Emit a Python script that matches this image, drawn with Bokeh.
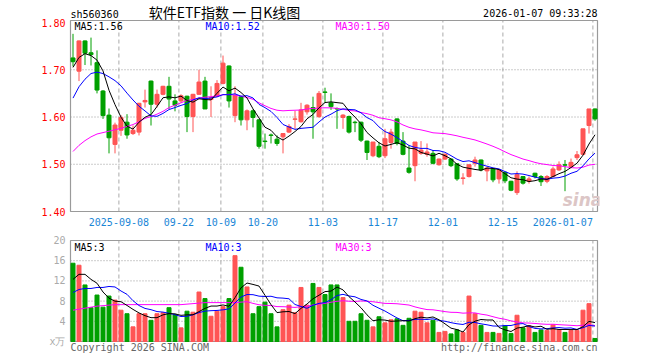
from bokeh.plotting import figure
from bokeh.layouts import column
from bokeh.models import Range1d, FixedTicker, Label, NumeralTickFormatter
from bokeh.embed import file_html
from bokeh.resources import INLINE

# ---------------- data ----------------
opens = [1.725, 1.697, 1.761, 1.736, 1.715, 1.655, 1.604, 1.542, 1.572, 1.589,
         1.565, 1.568, 1.632, 1.676, 1.627, 1.648, 1.665, 1.634, 1.634, 1.644,
         1.601, 1.648, 1.676, 1.637, 1.644, 1.671, 1.708, 1.603, 1.643, 1.594,
         1.613, 1.594, 1.549, 1.562, 1.553, 1.558, 1.568, 1.595, 1.590, 1.611,
         1.620, 1.601, 1.653, 1.630, 1.618, 1.599, 1.601, 1.589, 1.589, 1.549,
         1.518, 1.538, 1.518, 1.546, 1.596, 1.549, 1.492, 1.497, 1.523, 1.521,
         1.523, 1.499, 1.511, 1.511, 1.501, 1.470, 1.474, 1.502, 1.509, 1.486,
         1.490, 1.469, 1.483, 1.464, 1.440, 1.474, 1.464, 1.481, 1.474, 1.464,
         1.474, 1.488, 1.499, 1.495, 1.514, 1.521, 1.582, 1.617]
highs = [1.776, 1.762, 1.762, 1.768, 1.741, 1.657, 1.618, 1.588, 1.604, 1.606,
         1.582, 1.630, 1.658, 1.677, 1.658, 1.666, 1.685, 1.648, 1.648, 1.645,
         1.649, 1.700, 1.685, 1.665, 1.678, 1.730, 1.709, 1.665, 1.645, 1.616,
         1.616, 1.595, 1.565, 1.565, 1.561, 1.566, 1.585, 1.613, 1.630, 1.627,
         1.643, 1.655, 1.662, 1.650, 1.620, 1.606, 1.603, 1.592, 1.590, 1.550,
         1.547, 1.547, 1.575, 1.575, 1.597, 1.568, 1.540, 1.547, 1.549, 1.544,
         1.530, 1.512, 1.523, 1.512, 1.502, 1.481, 1.499, 1.516, 1.510, 1.495,
         1.491, 1.489, 1.484, 1.465, 1.485, 1.475, 1.474, 1.482, 1.477, 1.477,
         1.495, 1.506, 1.509, 1.512, 1.528, 1.575, 1.617, 1.618]
lows = [1.707, 1.676, 1.710, 1.709, 1.650, 1.596, 1.523, 1.523, 1.560, 1.554,
        1.562, 1.561, 1.620, 1.582, 1.620, 1.646, 1.617, 1.612, 1.630, 1.568,
        1.568, 1.647, 1.617, 1.600, 1.642, 1.669, 1.620, 1.589, 1.582, 1.572,
        1.578, 1.533, 1.533, 1.544, 1.539, 1.523, 1.566, 1.575, 1.588, 1.605,
        1.554, 1.598, 1.630, 1.615, 1.575, 1.575, 1.565, 1.568, 1.547, 1.509,
        1.515, 1.513, 1.513, 1.533, 1.540, 1.519, 1.480, 1.464, 1.520, 1.516,
        1.500, 1.497, 1.509, 1.494, 1.465, 1.457, 1.472, 1.495, 1.485, 1.464,
        1.462, 1.459, 1.460, 1.443, 1.435, 1.457, 1.459, 1.470, 1.454, 1.460,
        1.472, 1.486, 1.443, 1.493, 1.509, 1.519, 1.565, 1.592]
closes = [1.717, 1.761, 1.735, 1.732, 1.657, 1.603, 1.556, 1.583, 1.599, 1.562,
          1.572, 1.629, 1.635, 1.627, 1.648, 1.665, 1.638, 1.625, 1.645, 1.601,
          1.648, 1.674, 1.617, 1.641, 1.671, 1.714, 1.634, 1.646, 1.594, 1.613,
          1.599, 1.538, 1.548, 1.561, 1.544, 1.565, 1.580, 1.596, 1.615, 1.625,
          1.611, 1.650, 1.652, 1.622, 1.617, 1.604, 1.568, 1.588, 1.551, 1.525,
          1.547, 1.516, 1.554, 1.568, 1.544, 1.521, 1.483, 1.547, 1.530, 1.526,
          1.502, 1.511, 1.521, 1.497, 1.469, 1.471, 1.499, 1.509, 1.488, 1.492,
          1.467, 1.488, 1.465, 1.445, 1.478, 1.460, 1.469, 1.474, 1.463, 1.474,
          1.490, 1.499, 1.498, 1.504, 1.520, 1.575, 1.617, 1.596]
volumes = [15.5, 15.1, 11.2, 6.7, 9.2, 6.8, 9.0, 8.2, 6.2, 5.5,
           2.9, 5.5, 5.5, 4.2, 5.5, 5.7, 6.7, 5.3, 2.7, 6.0,
           5.8, 9.8, 8.5, 5.0, 6.0, 6.9, 8.5, 17.0, 14.7, 10.8,
           5.5, 6.9, 7.8, 5.5, 2.9, 6.3, 7.2, 5.7, 10.7, 7.2,
           11.5, 10.7, 9.3, 11.2, 11.2, 8.7, 4.0, 4.0, 5.5, 4.2,
           2.9, 4.9, 3.7, 4.3, 4.5, 3.2, 4.6, 6.0, 5.8, 3.7,
           4.2, 1.8, 2.0, 1.5, 2.3, 1.8, 9.0, 5.5, 3.2, 1.8,
           1.8, 1.6, 3.1, 1.6, 5.2, 2.7, 3.1, 1.8, 2.3, 2.2,
           3.3, 2.3, 1.8, 2.2, 2.2, 6.2, 7.5, 0.6]

# moving-average values before enough candles exist
ma5_head = [1.705, 1.726, 1.734, 1.730]
ma10_head = [1.640, 1.664, 1.680, 1.692, 1.695, 1.692, 1.685, 1.677, 1.666]
ma30_head = [1.527, 1.540, 1.550, 1.558, 1.564, 1.567, 1.570, 1.573, 1.576, 1.580,
             1.584, 1.590, 1.597, 1.601, 1.606, 1.612, 1.620, 1.625, 1.630, 1.635,
             1.637, 1.640, 1.642, 1.643, 1.645, 1.647, 1.648, 1.646, 1.644]
vol_ma5_head = [12.3, 13.3, 13.3, 12.3]
vol_ma10_head = [9.7, 10.3, 10.5, 10.5, 10.7, 10.7, 10.9, 10.8, 10.0]
vol_ma30_head = [6.2, 6.4, 6.6, 6.8, 7.0, 7.1, 7.2, 7.3, 7.3, 7.3,
                 7.3, 7.3, 7.3, 7.3, 7.3, 7.3, 7.3, 7.3, 7.3, 7.4,
                 7.5, 7.6, 7.7, 7.7, 7.7, 7.7, 7.7, 7.7, 7.8]

tick_idx = [8, 18, 25, 32, 42, 52, 62, 72, 87]
tick_labels = ["2025-09-08", "09-22", "10-09", "10-20", "11-03",
               "11-17", "12-01", "12-15", "2026-01-07"]
price_ticks = [1.40, 1.50, 1.60, 1.70, 1.80]
price_grid = [1.50, 1.60, 1.70]
vol_ticks = [0, 4, 8, 12, 16, 20]
vol_grid = [4, 8, 12, 16]
vol_unit = "x万"

code_text = "sh560360"
title_text = "软件ETF指数 一 日K线图"
time_text = "2026-01-07 09:33:28"
ma_price_texts = ["MA5:1.56", "MA10:1.52", "MA30:1.50"]
ma_vol_texts = ["MA5:3", "MA10:3", "MA30:3"]
copyright_text = "Copyright 2026 SINA.COM"
url_text = "http://finance.sina.com.cn"

# ---------------- helpers ----------------
def moving_avg(vals, n, head):
    out = list(head)
    for i in range(len(head), len(vals)):
        out.append(sum(vals[i - n + 1:i + 1]) / n)
    return out

RED = "#ff5555"
GREEN = "#00a000"
MONO = "DejaVu Sans Mono"
CJK = "Noto Sans CJK SC"
BOX = "#9a9a9a"

idx = list(range(len(closes)))
colors = [RED if c >= o else GREEN for o, c in zip(opens, closes)]
body_top = [max(o, c) for o, c in zip(opens, closes)]
body_bot = [min(o, c) for o, c in zip(opens, closes)]
ma5 = moving_avg(closes, 5, ma5_head)
ma10 = moving_avg(closes, 10, ma10_head)
ma30 = moving_avg(closes, 30, ma30_head)
vma5 = moving_avg(volumes, 5, vol_ma5_head)
vma10 = moving_avg(volumes, 10, vol_ma10_head)
vma30 = moving_avg(volumes, 30, vol_ma30_head)
grid_x = [t - 0.35 for t in tick_idx]

# page-pixel layout; box x 70..597, frame a bit wider so box lines are not clipped
W = 660
STEP = 6.0
X0 = 72.5
FL, FR = 68, 599

def xd(px):
    return (px - X0) / STEP

PPU = 472.5           # price panel: 1.40 at page y 211, box 20..211
def ym(py):
    return 1.40 + (211 - py) / PPU

VPU = 101 / 20.0      # volume panel: 0 at page y 341, box 240..341
def yv(py):
    return (341 - py) / VPU

MAIN_H = 232
VOL_H = 128

def base(height, yr):
    f = figure(width=W, height=height, output_backend="svg", toolbar_location=None,
               x_range=Range1d(xd(FL), xd(FR)), y_range=yr,
               min_border_left=FL, min_border_right=W - FR,
               min_border_top=0, min_border_bottom=0, x_axis_location=None)
    f.outline_line_color = None
    f.background_fill_color = "white"
    f.border_fill_color = "white"
    f.xgrid.visible = False
    f.ygrid.visible = False
    ya = f.yaxis[0]
    ya.axis_line_color = None
    ya.major_tick_line_color = None
    ya.minor_tick_line_color = None
    ya.major_tick_out = 0
    ya.major_tick_in = 0
    ya.major_label_standoff = 3
    ya.major_label_text_font = MONO
    ya.major_label_text_font_size = "10px"
    return f


def lab(f, x, y, text, color="black", align="left", font=MONO, size="10px", style_="normal"):
    f.add_layout(Label(x=x, y=y, text=text, text_color=color, text_align=align,
                       text_baseline="middle", text_font=font, text_font_size=size,
                       text_font_style=style_))


def box_and_grid(f, bottom, top, hgrid):
    f.segment(x0=grid_x, y0=[bottom] * len(grid_x), x1=grid_x, y1=[top] * len(grid_x),
              line_color="#aaaaaa", line_dash="4 3", line_width=1)
    f.segment(x0=[xd(70)] * len(hgrid), y0=hgrid, x1=[xd(597)] * len(hgrid), y1=hgrid,
              line_color="#999999", line_dash="1 2", line_width=1)
    f.quad(left=xd(70), right=xd(597), bottom=bottom, top=top,
           fill_color=None, line_color=BOX, line_width=1.2)

# ---------------- main price panel ----------------
p = base(MAIN_H, Range1d(ym(MAIN_H), ym(0)))
p.yaxis[0].ticker = FixedTicker(ticks=price_ticks)
p.yaxis[0].formatter = NumeralTickFormatter(format="0.00")
p.yaxis[0].major_label_text_color = "#ff0000"
box_and_grid(p, 1.40, ym(20), price_grid)

p.segment(x0=idx, y0=lows, x1=idx, y1=highs, color=colors, line_width=1)
p.vbar(x=idx, width=4 / STEP, top=body_top, bottom=body_bot,
       fill_color=colors, line_color=colors, line_width=1)
p.line(idx, ma30, color="#ff00ff", line_width=1)
p.line(idx, ma10, color="#0000ff", line_width=1)
p.line(idx, ma5, color="black", line_width=1)

lab(p, xd(70), ym(13.5), code_text)
lab(p, xd(224), ym(11.5), title_text, align="center", font=CJK, size="14px")
lab(p, xd(597), ym(12.7), time_text, align="right")
lab(p, xd(74), ym(26), ma_price_texts[0], "black")
lab(p, xd(205), ym(26), ma_price_texts[1], "#0000ff")
lab(p, xd(335), ym(26), ma_price_texts[2], "#ff00ff")
for i, (gx, t) in enumerate(zip(grid_x, tick_labels)):
    last = i == len(grid_x) - 1
    lab(p, gx, ym(221.5), t, "#1a86d6", align="right" if last else "center")
lab(p, xd(582), ym(199), "sina", "#dcc6c6", align="center", font="DejaVu Sans",
    size="17px", style_="bold italic")

# ---------------- volume panel ----------------
v = base(VOL_H, Range1d(yv(MAIN_H + VOL_H), yv(MAIN_H)))
v.yaxis[0].ticker = FixedTicker(ticks=vol_ticks)
v.yaxis[0].formatter = NumeralTickFormatter(format="0")
v.yaxis[0].major_label_overrides = {0: vol_unit}
v.yaxis[0].major_label_text_color = "#aaaaaa"
box_and_grid(v, 0, 20, vol_grid)

v.vbar(x=idx, width=4 / STEP, top=volumes, bottom=0,
       fill_color=colors, line_color=colors, line_width=1)
v.line(idx, vma30, color="#ff00ff", line_width=1)
v.line(idx, vma10, color="#0000ff", line_width=1)
v.line(idx, vma5, color="black", line_width=1)

lab(v, xd(74), yv(247), ma_vol_texts[0], "black")
lab(v, xd(205), yv(247), ma_vol_texts[1], "#0000ff")
lab(v, xd(335), yv(247), ma_vol_texts[2], "#ff00ff")
lab(v, xd(70), yv(346.5), copyright_text, "#666666")
lab(v, xd(597), yv(346.5), url_text, "#666666", align="right")

layout = column(p, v, spacing=0)
open("out.html", "w").write(file_html(layout, INLINE))
